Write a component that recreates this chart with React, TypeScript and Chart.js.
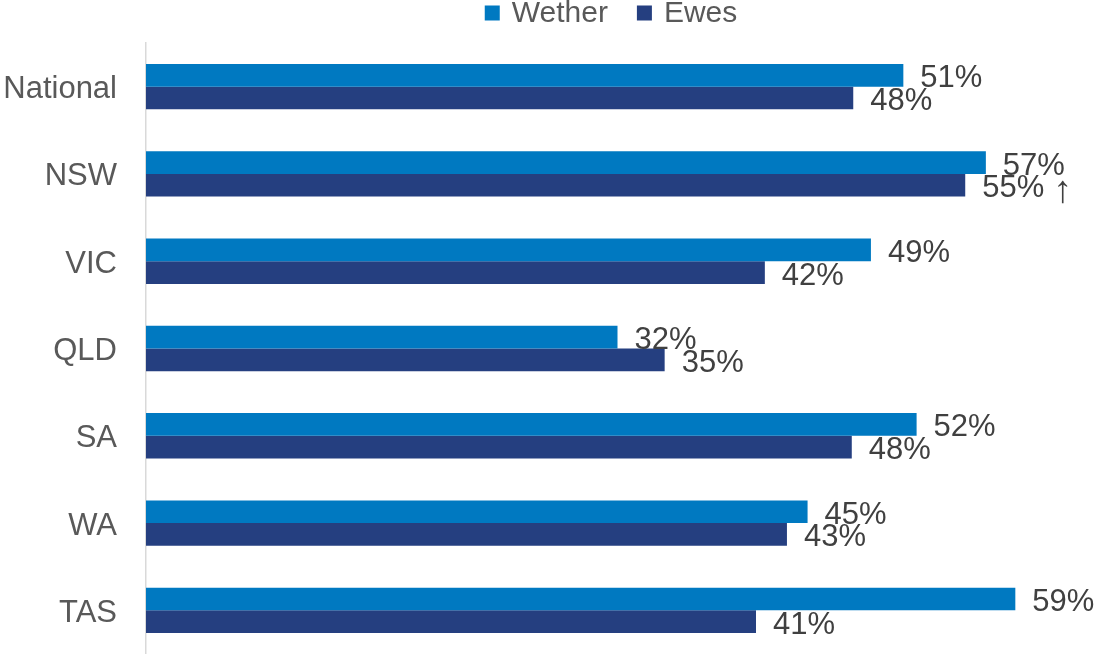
import React, { useEffect, useRef } from "react";
import { Chart, registerables } from "chart.js";

Chart.register(...registerables);

const categories = ["National", "NSW", "VIC", "QLD", "SA", "WA", "TAS"];
const wetherValues = [51.4, 57.0, 49.2, 32.0, 52.3, 44.9, 59.0];
const ewesValues = [48.0, 55.6, 42.0, 35.2, 47.9, 43.5, 41.4];
const wetherLabels = ["51%", "57%", "49%", "32%", "52%", "45%", "59%"];
const ewesLabels = ["48%", "55% \u2191", "42%", "35%", "48%", "43%", "41%"];
const seriesNames = ["Wether", "Ewes"];
const seriesColors = ["#0079C1", "#253F80"];
const xMax = 64;

const FONT = "'Liberation Sans', Arial, 'DejaVu Sans', sans-serif";
const ARROW = "\u2191";

const labelPlugin = {
  id: "barLabels",
  afterDatasetsDraw(chart: any) {
    const ctx = chart.ctx;
    const texts = [wetherLabels, ewesLabels];
    ctx.save();
    ctx.fillStyle = "#404040";
    ctx.textAlign = "left";
    ctx.textBaseline = "alphabetic";
    chart.data.datasets.forEach((ds: any, di: number) => {
      const meta = chart.getDatasetMeta(di);
      meta.data.forEach((bar: any, i: number) => {
        const t: string = texts[di][i];
        const baseY = bar.y + 12;
        const x0 = bar.x + 17;
        ctx.font = `31px ${FONT}`;
        const idx = t.indexOf(ARROW);
        if (idx >= 0) {
          const main = t.slice(0, idx);
          ctx.fillText(main, x0, baseY);
          const w = ctx.measureText(main).width;
          ctx.font = `38px ${FONT}`;
          ctx.fillText(ARROW, x0 + w, baseY + 5);
        } else {
          ctx.fillText(t, x0, baseY);
        }
      });
    });
    ctx.restore();
  },
};

const legendPlugin = {
  id: "customLegend",
  afterDraw(chart: any) {
    const ctx = chart.ctx;
    ctx.save();
    ctx.font = `30px ${FONT}`;
    ctx.textBaseline = "middle";
    ctx.textAlign = "left";
    const box = 15;
    const gapText = 12;
    const gapItem = 29;
    const widths = seriesNames.map((n) => box + gapText + ctx.measureText(n).width);
    const total = widths.reduce((a, b) => a + b, 0) + gapItem * (seriesNames.length - 1);
    let x = 611 - total / 2;
    const cy = 13;
    seriesNames.forEach((n, i) => {
      ctx.fillStyle = seriesColors[i];
      ctx.fillRect(x, cy - box / 2, box, box);
      ctx.fillStyle = "#595959";
      ctx.fillText(n, x + box + gapText, cy + 1);
      x += widths[i] + gapItem;
    });
    ctx.restore();
  },
};

export default function App() {
  const ref = useRef<HTMLCanvasElement | null>(null);
  useEffect(() => {
    if (!ref.current) return;
    const chart = new Chart(ref.current, {
      type: "bar",
      data: {
        labels: categories,
        datasets: [
          {
            label: seriesNames[0],
            data: wetherValues,
            backgroundColor: seriesColors[0],
            categoryPercentage: 0.52,
            barPercentage: 1,
          },
          {
            label: seriesNames[1],
            data: ewesValues,
            backgroundColor: seriesColors[1],
            categoryPercentage: 0.52,
            barPercentage: 1,
          },
        ],
      },
      options: {
        indexAxis: "y",
        animation: false,
        responsive: false,
        maintainAspectRatio: false,
        devicePixelRatio: 1,
        layout: { padding: { top: 43, right: 6, bottom: 0, left: 0 } },
        plugins: {
          legend: { display: false },
          tooltip: { enabled: false },
        },
        scales: {
          x: {
            display: false,
            min: 0,
            max: xMax,
          },
          y: {
            afterFit: (s: any) => {
              s.width = 146;
              s.paddingTop = 0;
              s.paddingBottom = 0;
            },
            grid: { display: true, color: "transparent", drawTicks: false },
            border: { display: true, color: "#D9D9D9", width: 1.5 },
            ticks: {
              padding: 29,
              labelOffset: 3,
              color: "#595959",
              font: { size: 31, family: FONT },
            },
          },
        },
      },
      plugins: [labelPlugin, legendPlugin],
    });
    return () => chart.destroy();
  }, []);
  return (
    <div style={{ position: "absolute", left: 0, top: 0, width: 1095, height: 654 }}>
      <canvas ref={ref} width={1095} height={654} style={{ display: "block" }} />
    </div>
  );
}
